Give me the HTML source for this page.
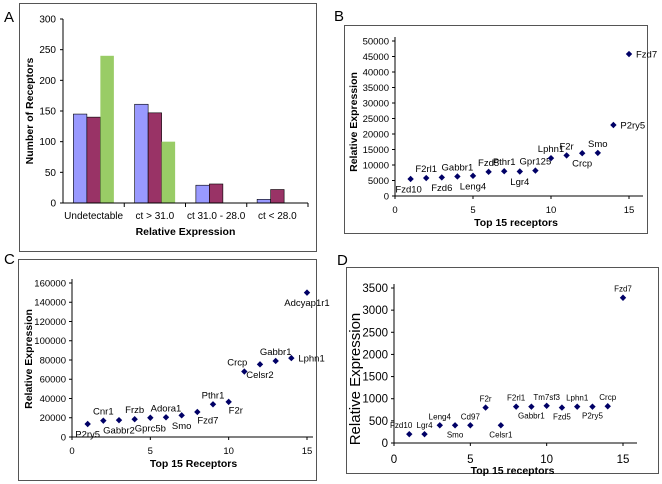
<!DOCTYPE html>
<html><head><meta charset="utf-8"><style>
body{margin:0;background:#fff}
svg{display:block;font-family:"Liberation Sans",sans-serif}
</style></head><body>
<svg id="fig" width="662" height="484" viewBox="0 0 662 484">
<g fill="none" stroke="#555" stroke-width="1">
<rect x="19.5" y="3.5" width="297" height="248"/>
<rect x="344.5" y="25.5" width="303" height="208"/>
<rect x="18.5" y="259.5" width="298" height="221"/>
<rect x="346.5" y="267.5" width="312" height="206"/>
</g>
<text x="4" y="22" font-size="15">A</text>
<text x="334" y="21" font-size="15">B</text>
<text x="4" y="264" font-size="15">C</text>
<text x="337" y="265" font-size="15">D</text>
</svg>
<script>
const NS="http://www.w3.org/2000/svg";
const svg=document.getElementById('fig');
function mk(tag,attrs,parent,txt){const e=document.createElementNS(NS,tag);for(const k in attrs)e.setAttribute(k,attrs[k]);if(txt!==undefined)e.textContent=txt;(parent||svg).appendChild(e);return e;}

// ---- Panel A data ----
const aCategories=["Undetectable","ct > 31.0","ct 31.0 - 28.0","ct < 28.0"];
const aSeries1=[145,161,29,6];
const aSeries2=[140,147,31,22];
const aSeries3=[240,100,0,0];
const aTicks=[0,50,100,150,200,250,300];

// ---- Panel B data ----
const bX=[1,2,3,4,5,6,7,8,9,10,11,12,13,14,15];
const bY=[5500,5800,6000,6300,6500,7800,8000,7900,8200,12200,13100,13800,13900,22900,45800];
const bNames=["Fzd10","F2rl1","Fzd6","Gabbr1","Leng4","Fzd5","Pthr1","Lgr4","Gpr125","Lphn1","F2r","Crcp","Smo","P2ry5","Fzd7"];
const bPlace=["bl","a","b","a","b","a","a","b","a","a","a","b","a","r","r"];
const bYTicks=[0,5000,10000,15000,20000,25000,30000,35000,40000,45000,50000];

// ---- Panel C data ----
const cX=[1,2,3,4,5,6,7,8,9,10,11,12,13,14,15];
const cY=[13500,17000,17500,18500,20000,20500,22500,26000,34000,36500,68000,75500,79000,82000,150000];
const cNames=["P2ry5","Cnr1","Gabbr2","Frzb","Gprc5b","Adora1","Smo","Fzd7","Pthr1","F2r","Crcp","Celsr2","Gabbr1","Lphn1","Adcyap1r1"];
const cPlace=["b","a","b","a","b","a","b","br","a","br","al","b","a","r","b"];
const cYTicks=[0,20000,40000,60000,80000,100000,120000,140000,160000];

// ---- Panel D data ----
const dX=[1,2,3,4,5,6,7,8,9,10,11,12,13,14,15];
const dY=[200,200,400,400,400,800,400,820,820,840,800,820,820,830,3280];
const dNames=["Fzd10","Lgr4","Leng4","Smo","Cd97","F2r","Celsr1","F2rl1","Gabbr1","Tm7sf3","Fzd5","Lphn1","P2ry5","Crcp","Fzd7"];
const dPlace=["al","a","a","b","a","a","b","a","b","a","b","a","b","a","a"];
const dYTicks=[0,500,1000,1500,2000,2500,3000,3500];

const xTicks=[0,5,10,15];

// ===== Panel A bar chart =====
(function(){
  const L=63,R=308,T=19,B=203,ymax=300;
  const ys=v=>B-(v/ymax)*(B-T);
  const g=mk('g',{});
  
  
  const cw=(R-L)/aCategories.length, bw=13.5;
  const cols=["#9999ff","#993366","#99cc66"];
  const series=[aSeries1,aSeries2,aSeries3];
  aCategories.forEach((c,i)=>{
    const cx=L+cw*(i+0.5);
    series.forEach((s,j)=>{
      if(s[i]<=0)return;
      const r=mk('rect',{x:cx-1.5*bw+j*bw,y:ys(s[i]),width:bw,height:B-ys(s[i]),fill:cols[j],stroke:j<2?"#000":"none","stroke-width":0.6},g);
      
      
    });
    const t=mk('text',{x:cx,y:219,"font-size":10,"text-anchor":"middle"},g,c);
    
    
    mk('line',{x1:L+cw*(i+1),x2:L+cw*(i+1),y1:B,y2:B+4,stroke:"#000"},g);
  });
  aTicks.forEach(v=>{
    const t=mk('text',{x:L-7,y:ys(v)+3.5,"font-size":10,"text-anchor":"end"},g,v);
    
    
    mk('line',{x1:L-3,x2:L,y1:ys(v),y2:ys(v),stroke:"#000"},g);
  });
  mk('line',{x1:L,x2:L,y1:T,y2:B,stroke:"#000"},g);
  mk('line',{x1:L,x2:R,y1:B,y2:B,stroke:"#000"},g);
  const xt=mk('text',{x:(L+R)/2,y:235,"font-size":10.5,"font-weight":"bold","text-anchor":"middle"},g,"Relative Expression");
  
  
  const yt=mk('text',{x:0,y:0,"font-size":10.5,"font-weight":"bold","text-anchor":"middle",transform:"translate(33,111) rotate(-90)"},g,"Number of Receptors");
  
  
})();

// ===== Scatter panels =====
function scatter(o){
  const g=mk('g',{});
  
  
  const xs=v=>o.L+(v/15)*(o.X15-o.L);
  const ys=v=>o.B-(v/o.ymax)*(o.B-o.T);
  o.yt.forEach(v=>{
    const t=mk('text',{x:o.L-6,y:ys(v)+o.fs*0.35,"font-size":o.fs,"text-anchor":"end"},g,v);
    
    
    mk('line',{x1:o.L-3,x2:o.L,y1:ys(v),y2:ys(v),stroke:"#000"},g);
  });
  xTicks.forEach(v=>{
    const t=mk('text',{x:xs(v),y:o.xtY,"font-size":o.fs,"text-anchor":"middle"},g,v);
    
    
    mk('line',{x1:xs(v),x2:xs(v),y1:o.B,y2:o.B+3,stroke:"#000"},g);
  });
  mk('line',{x1:o.L,x2:o.L,y1:o.T-4,y2:o.B,stroke:"#000"},g);
  mk('line',{x1:o.L,x2:o.R,y1:o.B,y2:o.B,stroke:"#000"},g);
  const xt=mk('text',{x:(o.L+o.X15)/2+4,y:o.titleY,"font-size":10.5,"font-weight":"bold","text-anchor":"middle"},g,o.xtitle);
  
  
  const yt=mk('text',{x:0,y:0,"font-size":o.ytFs,"font-weight":o.ytBold?"bold":"normal","text-anchor":"middle",transform:`translate(${o.ytX},${o.ytY}) rotate(-90)`},g,"Relative Expression");
  
  
  o.xv.forEach((xv,i)=>{
    const px=xs(xv),py=ys(o.yv[i]);
    const m=mk('path',{d:`M${px},${py-3.2}L${px+3.2},${py}L${px},${py+3.2}L${px-3.2},${py}Z`,fill:"#000066"},g);
    
    
    const p=o.place[i];let tx=px,ty=py,anc="middle";
    if(p==="a"){ty=py-6;}
    else if(p==="b"){ty=py+o.lfs+4;}
    else if(p==="r"){tx=px+7;ty=py+o.lfs*0.35;anc="start";}
    else if(p==="bl"){tx=px-2;ty=py+o.lfs+4;}
    else if(p==="br"){tx=px;ty=py+o.lfs+2;anc="start";}
    else if(p==="al"){tx=px+3;ty=py-6;anc="end";}
    const t=mk('text',{x:tx,y:ty,"font-size":o.lfs,"text-anchor":anc},g,o.names[i]);
    
    
  });
}
scatter({name:'scatter-chart-b',L:395,X15:629,R:643,T:41,B:196,ymax:50000,yt:bYTicks,xv:bX,yv:bY,names:bNames,place:bPlace,fs:9.5,lfs:9.5,xtY:213,titleY:226,xtitle:"Top 15 receptors",ytFs:10.5,ytBold:true,ytX:357,ytY:122});
scatter({name:'scatter-chart-c',L:72,X15:307,R:313,T:283,B:437,ymax:160000,yt:cYTicks,xv:cX,yv:cY,names:cNames,place:cPlace,fs:9.5,lfs:9.5,xtY:454,titleY:467,xtitle:"Top 15 Receptors",ytFs:10.5,ytBold:true,ytX:32,ytY:359});
scatter({name:'scatter-chart-d',L:394,X15:623,R:637,T:288,B:443,ymax:3500,yt:dYTicks,xv:dX,yv:dY,names:dNames,place:dPlace,fs:11.5,lfs:8,xtY:463,titleY:474,xtitle:"Top 15 receptors",ytFs:15,ytBold:false,ytX:360,ytY:379});
</script>
</body></html>
